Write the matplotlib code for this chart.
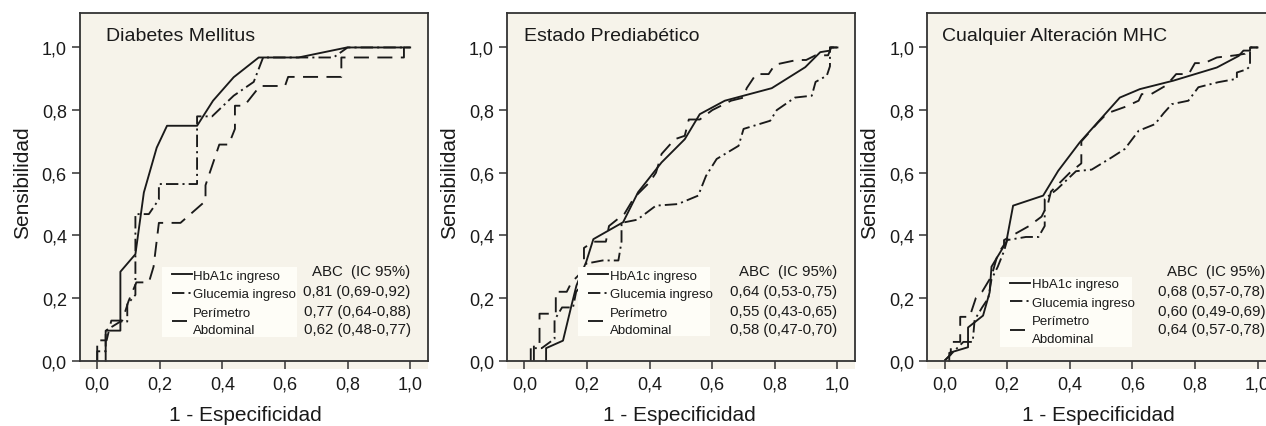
import numpy as np
import matplotlib.pyplot as plt
from matplotlib.patches import Rectangle
from matplotlib.ticker import FuncFormatter

plt.rcParams['font.family'] = ['Liberation Sans', 'DejaVu Sans']

# ---- data ----
titles = ['Diabetes Mellitus', 'Estado Prediabético', 'Cualquier Alteración MHC']
series_labels = ['HbA1c ingreso', 'Glucemia ingreso', 'Perímetro\nAbdominal']
abc_header = 'ABC  (IC 95%)'
abc_dm = ['0,81 (0,69-0,92)', '0,77 (0,64-0,88)', '0,62 (0,48-0,77)']
abc_pre = ['0,64 (0,53-0,75)', '0,55 (0,43-0,65)', '0,58 (0,47-0,70)']
abc_any = ['0,68 (0,57-0,78)', '0,60 (0,49-0,69)', '0,64 (0,57-0,78)']

# Diabetes Mellitus
dm_hba1c_x = [0.027, 0.027, 0.074, 0.074, 0.122, 0.149, 0.19, 0.223, 0.319, 0.37, 0.436, 0.516, 0.643, 0.798, 1.0]
dm_hba1c_y = [0.0, 0.096, 0.096, 0.284, 0.34, 0.537, 0.68, 0.75, 0.75, 0.83, 0.905, 0.968, 0.968, 1.0, 1.0]
dm_gluc_x = [0.0, 0.0, 0.027, 0.027, 0.074, 0.096, 0.096, 0.122, 0.122, 0.165, 0.197, 0.197, 0.319, 0.319, 0.367, 0.436, 0.50, 0.53, 0.755, 0.80, 1.0]
dm_gluc_y = [0.0, 0.03, 0.03, 0.096, 0.125, 0.125, 0.18, 0.21, 0.468, 0.468, 0.515, 0.564, 0.564, 0.78, 0.78, 0.846, 0.89, 0.968, 0.968, 1.0, 1.0]
dm_per_x = [0.0, 0.0, 0.03, 0.045, 0.08, 0.10, 0.125, 0.165, 0.18, 0.197, 0.266, 0.346, 0.346, 0.39, 0.42, 0.44, 0.44, 0.47, 0.52, 0.60, 0.61, 0.78, 0.78, 0.98, 0.98, 1.0]
dm_per_y = [0.0, 0.065, 0.065, 0.128, 0.128, 0.19, 0.25, 0.25, 0.30, 0.44, 0.44, 0.51, 0.56, 0.69, 0.69, 0.74, 0.814, 0.814, 0.877, 0.877, 0.906, 0.906, 0.968, 0.968, 1.0, 1.0]

# Estado Prediabetico
pre_hba1c_x = [0.069, 0.069, 0.123, 0.15, 0.166, 0.197, 0.22, 0.315, 0.363, 0.438, 0.512, 0.56, 0.64, 0.79, 0.897, 0.945, 0.976, 0.976, 1.0]
pre_hba1c_y = [0.0, 0.04, 0.064, 0.176, 0.24, 0.315, 0.388, 0.442, 0.538, 0.633, 0.707, 0.787, 0.83, 0.87, 0.937, 0.985, 0.99, 1.0, 1.0]
pre_gluc_x = [0.02, 0.02, 0.055, 0.096, 0.096, 0.12, 0.155, 0.165, 0.19, 0.197, 0.25, 0.30, 0.31, 0.31, 0.36, 0.42, 0.49, 0.555, 0.58, 0.614, 0.684, 0.70, 0.785, 0.806, 0.864, 0.918, 0.93, 0.966, 0.976, 0.976, 1.0]
pre_gluc_y = [0.0, 0.04, 0.04, 0.07, 0.13, 0.17, 0.17, 0.22, 0.25, 0.31, 0.32, 0.32, 0.38, 0.44, 0.45, 0.495, 0.50, 0.527, 0.59, 0.644, 0.686, 0.74, 0.766, 0.80, 0.84, 0.846, 0.89, 0.91, 0.94, 1.0, 1.0]
pre_per_x = [0.03, 0.03, 0.048, 0.048, 0.10, 0.10, 0.135, 0.15, 0.19, 0.19, 0.22, 0.26, 0.27, 0.32, 0.35, 0.40, 0.42, 0.438, 0.48, 0.512, 0.525, 0.56, 0.60, 0.66, 0.70, 0.71, 0.74, 0.78, 0.80, 0.87, 0.90, 0.93, 0.97, 0.98, 1.0]
pre_per_y = [0.0, 0.05, 0.05, 0.15, 0.15, 0.22, 0.22, 0.25, 0.29, 0.36, 0.38, 0.38, 0.43, 0.47, 0.52, 0.57, 0.60, 0.66, 0.707, 0.718, 0.77, 0.77, 0.80, 0.83, 0.84, 0.87, 0.915, 0.915, 0.945, 0.96, 0.96, 0.975, 0.975, 1.0, 1.0]

# Cualquier alteracion MHC
any_hba1c_x = [0.015, 0.015, 0.075, 0.075, 0.123, 0.144, 0.15, 0.197, 0.219, 0.315, 0.363, 0.432, 0.56, 0.624, 0.731, 0.87, 0.94, 0.955, 0.976, 0.976, 1.0]
any_hba1c_y = [0.0, 0.025, 0.043, 0.106, 0.144, 0.218, 0.30, 0.378, 0.495, 0.527, 0.606, 0.697, 0.84, 0.867, 0.894, 0.936, 0.973, 0.99, 0.99, 1.0, 1.0]
any_gluc_x = [0.0, 0.03, 0.06, 0.09, 0.096, 0.12, 0.14, 0.15, 0.17, 0.19, 0.20, 0.26, 0.30, 0.32, 0.32, 0.36, 0.42, 0.47, 0.534, 0.576, 0.62, 0.672, 0.70, 0.726, 0.779, 0.811, 0.874, 0.934, 0.934, 0.965, 0.976, 0.976, 1.0]
any_gluc_y = [0.0, 0.03, 0.06, 0.06, 0.13, 0.17, 0.20, 0.26, 0.30, 0.35, 0.385, 0.395, 0.395, 0.43, 0.516, 0.548, 0.605, 0.61, 0.649, 0.676, 0.734, 0.755, 0.79, 0.819, 0.83, 0.873, 0.889, 0.90, 0.92, 0.93, 0.94, 1.0, 1.0]
any_per_x = [0.0, 0.02, 0.02, 0.05, 0.05, 0.08, 0.10, 0.12, 0.15, 0.17, 0.19, 0.19, 0.27, 0.31, 0.33, 0.34, 0.37, 0.40, 0.437, 0.437, 0.49, 0.52, 0.576, 0.62, 0.63, 0.66, 0.71, 0.74, 0.78, 0.80, 0.83, 0.87, 0.93, 0.96, 0.976, 1.0]
any_per_y = [0.0, 0.02, 0.06, 0.06, 0.14, 0.14, 0.20, 0.22, 0.27, 0.34, 0.37, 0.385, 0.43, 0.46, 0.50, 0.54, 0.57, 0.60, 0.63, 0.70, 0.76, 0.79, 0.81, 0.83, 0.851, 0.851, 0.88, 0.915, 0.915, 0.95, 0.95, 0.968, 0.975, 0.98, 1.0, 1.0]

panels = [
    [(dm_hba1c_x, dm_hba1c_y), (dm_gluc_x, dm_gluc_y), (dm_per_x, dm_per_y)],
    [(pre_hba1c_x, pre_hba1c_y), (pre_gluc_x, pre_gluc_y), (pre_per_x, pre_per_y)],
    [(any_hba1c_x, any_hba1c_y), (any_gluc_x, any_gluc_y), (any_per_x, any_per_y)],
]
abc_values = [abc_dm, abc_pre, abc_any]

# ---- layout ----
bg = '#f6f3ea'
box_col = '#fefdf7'
ink = '#1a1a1a'
lefts = [0.0632, 0.4007, 0.7325]
title_x = [0.075, 0.048, 0.041]
xlabel_x = [0.476, 0.494, 0.49]
box_rect = [(0.235, 0.089, 0.388, 0.197), (0.204, 0.092, 0.379, 0.194), (0.209, 0.061, 0.379, 0.197)]
leg_anchor = [(0.2635, 0.279), (0.233, 0.279), (0.238, 0.255)]
abc_right = [0.950, 0.947, 0.971]
abc_rows = [0.276, 0.220, 0.164, 0.112]
styles = [dict(linestyle='-'),
          dict(linestyle=(0, (6.6, 2.2, 1.1, 2.2))),
          dict(linestyle=(0, (8.0, 4.5)))]

fig = plt.figure(figsize=(12.66, 4.27), dpi=100)
fmt = FuncFormatter(lambda v, p: f'{v:.1f}'.replace('.', ','))

for i in range(3):
    ax = fig.add_axes([lefts[i], 0.1335, 0.2749, 0.8337])
    ax.set_facecolor(bg)
    handles = []
    for (xs, ys), st in zip(panels[i], styles):
        ln, = ax.plot(xs, ys, color=ink, lw=1.35, zorder=2, **st)
        handles.append(ln)
    ax.set_xlim(-0.055, 1.057)
    ax.set_ylim(-0.0265, 1.11)
    ax.set_xticks(np.arange(0, 1.01, 0.2))
    ax.set_yticks(np.arange(0, 1.01, 0.2))
    ax.xaxis.set_major_formatter(fmt)
    ax.yaxis.set_major_formatter(fmt)
    ax.spines['bottom'].set_position(('data', 0))
    ax.spines['left'].set_bounds(0, 1.11)
    ax.spines['right'].set_bounds(0, 1.11)
    for s in ax.spines.values():
        s.set_color('#333333')
        s.set_linewidth(1.3)
    ax.tick_params(direction='out', length=6, width=1.1, color='#333333',
                   labelsize=13, labelcolor=ink)
    ax.tick_params(axis='y', pad=3.5)
    ax.tick_params(axis='x', pad=5)
    ax.set_xlabel('1 - Especificidad', fontsize=15, color=ink)
    ax.set_ylabel('Sensibilidad', fontsize=15, color=ink)
    ax.xaxis.set_label_coords(xlabel_x[i], -0.101)
    ax.yaxis.set_label_coords(-0.138, 0.525)
    ax.text(title_x[i], 0.938, titles[i], transform=ax.transAxes, fontsize=14,
            va='center', ha='left', color=ink)

    bx, by, bw, bh = box_rect[i]
    ax.add_patch(Rectangle((bx, by), bw, bh, transform=ax.transAxes,
                           facecolor=box_col, edgecolor='none', zorder=3))
    leg = ax.legend(handles, series_labels, loc='upper left',
                    bbox_to_anchor=leg_anchor[i], bbox_transform=ax.transAxes,
                    frameon=False, fontsize=9.5, handlelength=1.5,
                    handletextpad=0.12, labelspacing=0.47, borderpad=0,
                    borderaxespad=0)
    leg.set_zorder(4)
    for t in leg.get_texts():
        t.set_linespacing(1.65)
        t.set_color(ink)

    texts = [abc_header] + abc_values[i]
    for row, s in zip(abc_rows, texts):
        ax.text(abc_right[i], row, s, transform=ax.transAxes, fontsize=10.8,
                ha='right', va='center', color=ink, zorder=5)

fig.savefig('out.png', dpi=100, facecolor='white')
